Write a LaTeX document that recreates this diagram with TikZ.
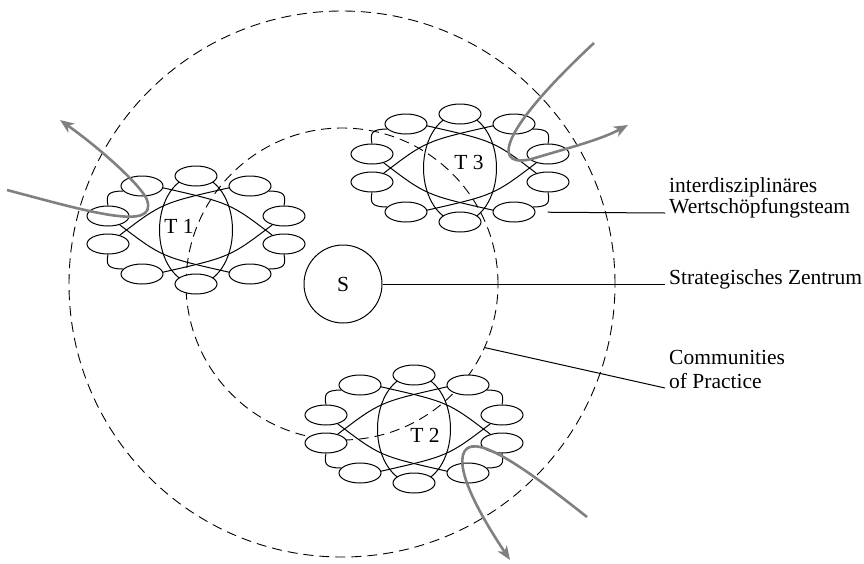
\documentclass[tikz,border=0pt]{standalone}
\usepackage{fontspec}
\setmainfont{Liberation Serif}
\usepackage{tikz}
\usetikzlibrary{shapes.geometric,arrows.meta}
\definecolor{flowgray}{RGB}{128,128,128}
\tikzset{
  member/.style={ellipse, draw, fill=white, line width=1pt, minimum width=42pt, minimum height=20pt, inner sep=0pt},
  link/.style={line width=1pt},
  orbit/.style={circle, draw, dash pattern=on 10pt off 6pt, line width=0.9pt, inner sep=0pt},
  flow/.style={draw=flowgray, line width=2.6pt, -{Stealth[length=14pt,width=11pt,inset=4pt]}},
  lbl/.style={anchor=base west, inner xsep=4pt, inner ysep=0pt},
}

\begin{document}
\begin{tikzpicture}[x=1pt,y=-1pt,font=\fontsize{21.5}{23}\selectfont]
\useasboundingbox (0,0) rectangle (864,563);

% ----- Zentrum und Communities
\node[circle, draw, line width=1pt, minimum size=78pt, inner sep=0pt] (S) at (343,284) {S};
\node[orbit, minimum size=312pt] (cop) at (342,284) {};
\node[orbit, minimum size=546pt] (rim) at (342,284) {};

% ----- Teams
\foreach \n/\cx/\cy/\lx/\ly in {1/196/230/-17/-4, 3/460/168/9/-6, 2/414/429/11/6}{
  \begin{scope}[shift={(\cx,\cy)}]
    \draw[link] (0,0) ellipse [x radius=36.5, y radius=54];
    \foreach \m/\px/\py in {n/0/-54, s/0/54, nw/-54/-44, wn/-88/-14, ws/-88/14, sw/-54/44,
                            ne/54/-44, en/88/-14, es/88/14, se/54/44}
      \node[member] (t\n-\m) at (\px,\py) {};
    \node (t\n) at (\lx,\ly) {T \n};
    % Netz
    \draw[link] (t\n-ws.37) .. controls (-34,-27) .. (t\n-ne.185);
    \draw[link] (t\n-wn.-37) .. controls (-34,27) .. (t\n-se.175);
    \draw[link] (t\n-es.143) .. controls (34,-27) .. (t\n-nw.355);
    \draw[link] (t\n-en.-143) .. controls (34,27) .. (t\n-sw.5);
    % Boegen
    \draw[link] (t\n-nw.195) .. controls +(-16,0) and +(-2,-10) .. (t\n-wn.north);
    \draw[link] (t\n-ws.south) .. controls +(-2,10) and +(-16,0) .. (t\n-sw.165);
    \draw[link] (t\n-ne.345) .. controls +(16,0) and +(2,-10) .. (t\n-en.north);
    \draw[link] (t\n-es.south) .. controls +(2,10) and +(16,0) .. (t\n-se.15);
  \end{scope}
}

% ----- Beschriftung
\node[lbl] (idz) at (665,192) {interdisziplinäres};
\node[lbl] (wst) at (665,213) {Wertschöpfungsteam};
\node[lbl] (zen) at (665,284) {Strategisches Zentrum};
\node[lbl] (com) at (665,364) {Communities};
\node[lbl] (prx) at (665,388) {of Practice};

\draw[link, shorten <=12pt] (t3-se) -- (wst.base west);
\draw[link] (S) -- (zen.base west);
\draw[link] (cop.-24.5) -- (prx.base west);

% ----- Wissensfluesse
\draw[flow] (7,190) .. controls (90,212) and (158,232) .. (147,200) .. controls (143,188) and (105,152) .. (60,120);
\draw[flow] (594,43) .. controls (490,140) and (495,170) .. (535,158) .. controls (568,148) and (600,140) .. (628,125);
\draw[flow] (587,517) .. controls (525,468) and (470,428) .. (463,455) .. controls (457,478) and (490,530) .. (510,560);
\end{tikzpicture}
\end{document}
